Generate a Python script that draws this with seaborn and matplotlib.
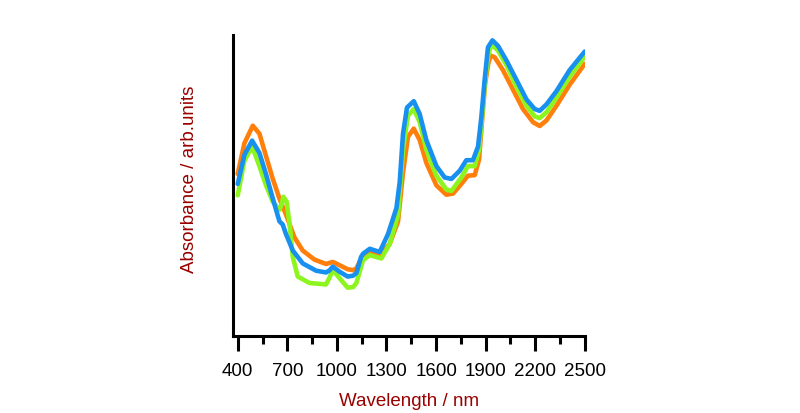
import numpy as np
import pandas as pd
import matplotlib.pyplot as plt
import seaborn as sns

# Spectra (absorbance in arb. units)
nm_orange = [400, 440, 491, 531, 571, 612, 652, 692, 743, 793, 864, 934, 975, 1015, 1065, 1098, 1118, 1158,
             1199, 1259, 1320, 1370, 1400, 1430, 1465, 1501, 1541, 1602, 1662, 1703, 1753, 1793, 1834, 1860,
             1880, 1896, 1915, 1929, 1955, 2005, 2066, 2126, 2187, 2227, 2268, 2328, 2408, 2500]
ab_orange = [0.555, 0.66, 0.72, 0.693, 0.616, 0.538, 0.471, 0.416, 0.338, 0.293, 0.262, 0.247, 0.254, 0.243,
             0.229, 0.226, 0.232, 0.277, 0.291, 0.277, 0.316, 0.393, 0.56, 0.682, 0.71, 0.671, 0.593, 0.516,
             0.484, 0.488, 0.521, 0.549, 0.551, 0.604, 0.749, 0.86, 0.93, 0.96, 0.954, 0.91, 0.843, 0.777,
             0.732, 0.719, 0.738, 0.788, 0.86, 0.932]

nm_green = [400, 440, 487, 531, 571, 612, 652, 665, 676, 696, 716, 733, 763, 834, 934, 955, 975, 1015, 1065,
            1098, 1118, 1158, 1199, 1269, 1320, 1370, 1400, 1430, 1465, 1501, 1541, 1602, 1662, 1693, 1753,
            1793, 1834, 1860, 1880, 1896, 1915, 1935, 1975, 2026, 2086, 2147, 2197, 2227, 2268, 2328, 2408,
            2500]
ab_green = [0.482, 0.6, 0.649, 0.582, 0.516, 0.46, 0.432, 0.45, 0.477, 0.46, 0.371, 0.271, 0.204, 0.182,
            0.177, 0.2, 0.227, 0.199, 0.166, 0.168, 0.182, 0.26, 0.277, 0.266, 0.316, 0.416, 0.638, 0.754,
            0.777, 0.732, 0.638, 0.549, 0.502, 0.497, 0.543, 0.582, 0.582, 0.638, 0.76, 0.87, 0.96, 0.999,
            0.977, 0.927, 0.854, 0.788, 0.752, 0.746, 0.766, 0.816, 0.888, 0.957]

nm_blue = [400, 440, 487, 531, 571, 612, 652, 672, 692, 733, 793, 874, 934, 955, 975, 1015, 1065, 1098, 1118,
           1146, 1158, 1199, 1259, 1309, 1360, 1380, 1400, 1424, 1465, 1501, 1541, 1602, 1652, 1693, 1743,
           1783, 1823, 1854, 1874, 1894, 1914, 1941, 1975, 2026, 2086, 2147, 2197, 2227, 2268, 2328, 2408,
           2500]
ab_blue = [0.521, 0.62, 0.669, 0.627, 0.554, 0.471, 0.393, 0.382, 0.349, 0.293, 0.249, 0.224, 0.218, 0.225,
           0.238, 0.221, 0.204, 0.207, 0.216, 0.271, 0.282, 0.299, 0.288, 0.349, 0.438, 0.527, 0.693, 0.782,
           0.804, 0.76, 0.671, 0.582, 0.543, 0.538, 0.566, 0.602, 0.602, 0.649, 0.749, 0.877, 0.988, 1.012,
           0.993, 0.943, 0.877, 0.81, 0.777, 0.771, 0.793, 0.838, 0.91, 0.974]

major_ticks = [400, 700, 1000, 1300, 1600, 1900, 2200, 2500]
minor_ticks = [550, 850, 1150, 1450, 1750, 2050, 2350]

sns.set_style("ticks")
plt.rcParams['font.family'] = ['Liberation Sans', 'DejaVu Sans']

fig = plt.figure(figsize=(8, 4.13), dpi=100)
ax = fig.add_axes([0.291, 0.186, 0.44, 0.729])

for x, y, c in [(nm_orange, ab_orange, "#ff7f0a"),
                (nm_green, ab_green, "#8cf51e"),
                (nm_blue, ab_blue, "#1890f0")]:
    sns.lineplot(x=x, y=y, ax=ax, color=c, linewidth=3.3, sort=False,
                 solid_joinstyle="round", solid_capstyle="round")

ax.set_xlim(370, 2500)
ax.set_ylim(0, 1.03)
ax.set_xticks(major_ticks)
ax.set_xticks(minor_ticks, minor=True)
ax.set_yticks([])
sns.despine(ax=ax)
for s in ["left", "bottom"]:
    ax.spines[s].set_linewidth(2.2)
    ax.spines[s].set_color("black")
ax.tick_params(axis="x", which="major", length=11, width=2.2, labelsize=13.5, pad=8,
               color="black", labelcolor="black")
ax.tick_params(axis="x", which="minor", length=6, width=2.2, color="black")

ax.set_xlabel("Wavelength / nm", fontsize=13.5, color="#990000", labelpad=10)
ax.set_ylabel("Absorbance / arb.units", fontsize=13.5, color="#990000")
ax.yaxis.set_label_coords(-0.1, 0.52)

plt.savefig("out.png", dpi=100)
